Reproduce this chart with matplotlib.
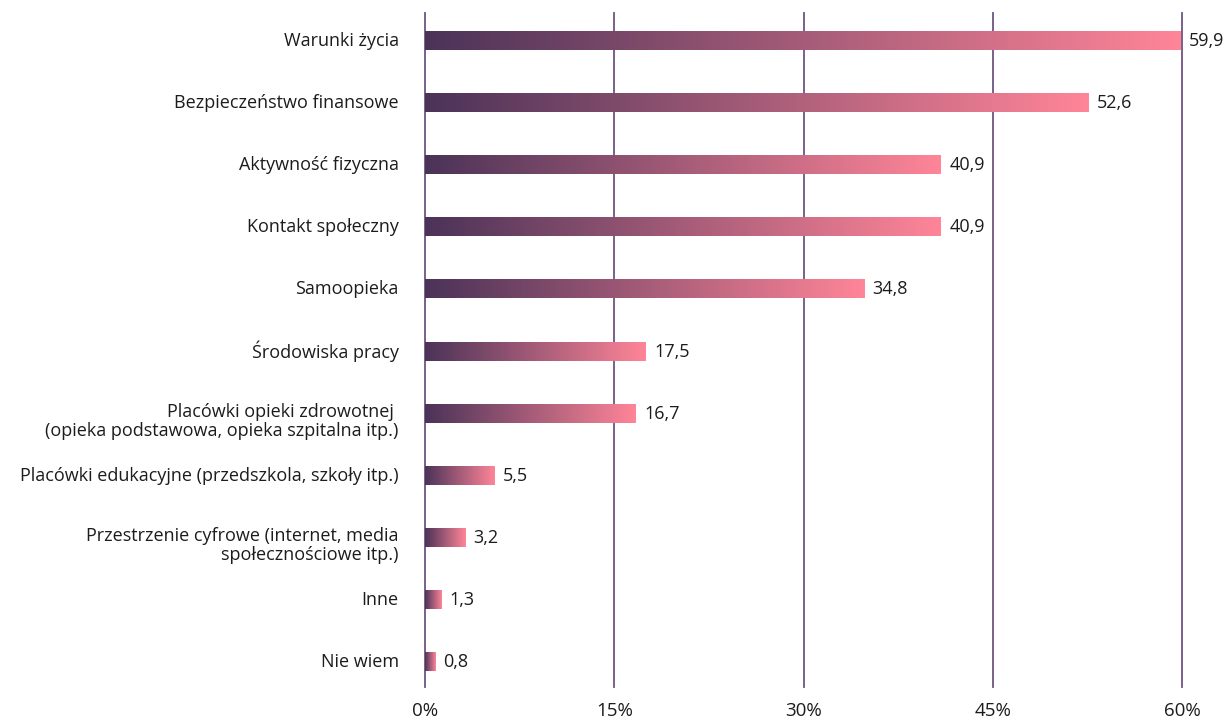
import numpy as np
import matplotlib.pyplot as plt
from matplotlib.colors import LinearSegmentedColormap

categories = [
    'Warunki życia',
    'Bezpieczeństwo finansowe',
    'Aktywność fizyczna',
    'Kontakt społeczny',
    'Samoopieka',
    'Środowiska pracy',
    'Placówki opieki zdrowotnej \n(opieka podstawowa, opieka szpitalna itp.)',
    'Placówki edukacyjne (przedszkola, szkoły itp.)',
    'Przestrzenie cyfrowe (internet, media\nspołecznościowe itp.)',
    'Inne',
    'Nie wiem',
]
values = [59.9, 52.6, 40.9, 40.9, 34.8, 17.5, 16.7, 5.5, 3.2, 1.3, 0.8]
ticks = [0, 15, 30, 45, 60]

plt.rcParams['font.family'] = ['Open Sans', 'DejaVu Sans']

grad = LinearSegmentedColormap.from_list('bar', ['#4b3358', '#ff8598'])
ramp = np.linspace(0, 1, 256).reshape(1, -1)

fig = plt.figure(figsize=(12.32, 7.22), dpi=100)
ax = fig.add_axes([0.345, 0.0485, 0.6144, 0.9335])

fs = 13
txt = '#1c1c1c'
h = 0.29
ypos = np.arange(len(categories))
for y, v, name in zip(ypos, values, categories):
    # each bar carries its own full dark-to-pink gradient
    ax.imshow(ramp, cmap=grad, aspect='auto', interpolation='bilinear',
              extent=(0, v, y + h / 2, y - h / 2), zorder=3)
    ax.annotate(f'{v:.1f}'.replace('.', ','), xy=(v, y), xytext=(6, 0),
                textcoords='offset points', va='center', ha='left',
                fontsize=fs, color=txt, annotation_clip=False)
    # first line of a wrapped label sits level with its bar
    if '\n' in name:
        ax.annotate(name, xy=(0, y), xytext=(-19, 0.6 * fs),
                    textcoords='offset points', va='top', ha='right',
                    multialignment='right', fontsize=fs, color=txt,
                    linespacing=1.05, annotation_clip=False)
    else:
        ax.annotate(name, xy=(0, y), xytext=(-19, 0),
                    textcoords='offset points', va='center', ha='right',
                    fontsize=fs, color=txt, annotation_clip=False)

ax.set_xlim(0, 60)
ax.set_ylim(10.40, -0.451)
ax.set_yticks([])
ax.set_xticks(ticks)
ax.set_xticklabels([f'{t}%' for t in ticks], fontsize=13.5, color=txt)
ax.tick_params(axis='x', length=0, pad=11)

for t in ticks:
    ax.axvline(t, color='#6e5480', lw=1.3, zorder=1, clip_on=False)
for s in ax.spines.values():
    s.set_visible(False)

fig.savefig('out.png', dpi=100)
